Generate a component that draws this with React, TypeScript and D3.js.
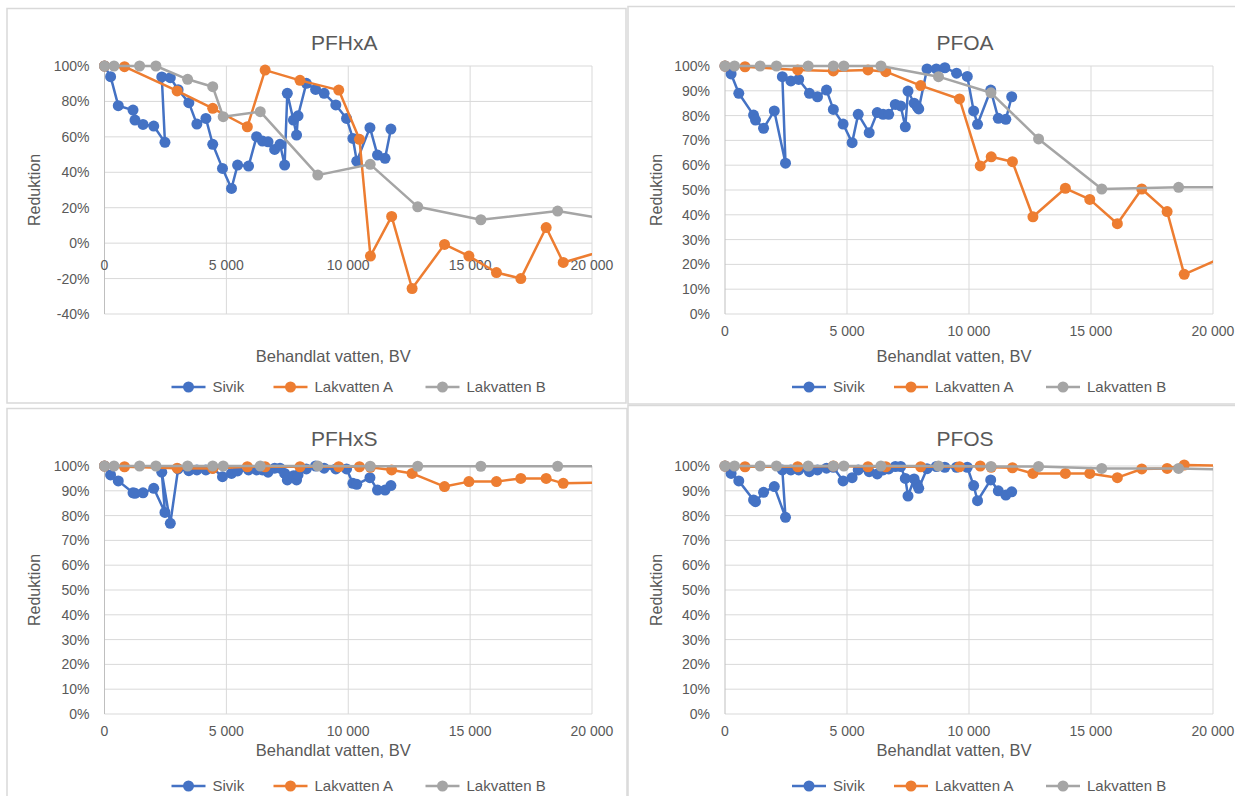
import React from 'react';
import * as d3 from 'd3';

// Behandlat vatten (BV) per prov
const sivikBV = [
  0, 250, 565, 1170, 1250, 1580, 2020, 2480, 2350, 2700, 3020, 3460, 3790, 4160, 4440, 4840, 5210, 5460, 5910, 6240,
  6480, 6710, 6980, 7200, 7390, 7500, 7750, 7880, 7940, 8280, 8660, 9010, 9490, 9930, 10190, 10350, 10890, 11200, 11510, 11750,
];
const lakABV = [0, 820, 2980, 4440, 5860, 6590, 8020, 9610, 10460, 10910, 11780, 12620, 13950, 14950, 16080, 17080, 18120, 18820, 21000];
const lakBBV = [0, 390, 1440, 2110, 3410, 4440, 4870, 6390, 8750, 10900, 12850, 15440, 18590, 21000];

// Reduktion (%) – Sivik
const sivikPFHxA = [
  100, 94, 77.6, 75.1, 69.5, 67, 66.1, 56.9, 93.8, 93.4, 86.6, 79.3, 67.2, 70.4, 55.8, 42.2, 30.9, 44.1, 43.5, 60.1,
  57.6, 57.2, 52.9, 55.8, 44.1, 84.6, 69.5, 61, 71.9, 90.2, 86.8, 84.6, 78, 70.4, 59.1, 46.3, 65.2, 49.7, 47.9, 64.4,
];
const sivikPFOA = [
  100, 96.8, 89, 80.2, 78.2, 74.9, 81.9, 60.8, 95.7, 94, 94.6, 89, 87.6, 90.3, 82.5, 76.6, 69.1, 80.5, 73.1, 81.2,
  80.5, 80.5, 84.5, 83.9, 75.5, 89.9, 85, 83.5, 82.7, 98.8, 98.8, 99.3, 97.1, 95.8, 81.9, 76.5, 90.3, 78.9, 78.5, 87.6,
];
const sivikPFHxS = [
  100, 96.4, 94, 89.2, 89, 89.2, 91, 81.3, 97.5, 76.9, 98.8, 98.1, 98.4, 98.4, 99.1, 95.7, 97, 98, 98.4, 98.4,
  98.4, 97.5, 99.1, 99.1, 97, 94.4, 96.1, 94.4, 96.4, 98.8, 100, 99.1, 98.8, 98.8, 93, 92.6, 95.3, 90.3, 90.3, 92.1,
];
const sivikPFOS = [
  100, 97, 94, 86.3, 85.6, 89.4, 91.7, 79.3, 98.4, 98.4, 98.4, 97.7, 98.4, 99.1, 99.5, 94, 95.3, 98.4, 97.7, 96.8,
  98.4, 98.8, 99.8, 99.8, 95, 87.9, 94.8, 92.5, 91, 98.9, 99.8, 99.5, 99.5, 99.5, 92.1, 86, 94.4, 90, 88.3, 89.6,
];

// Reduktion (%) – Lakvatten A
const lakAPFHxA = [100, 99.6, 85.9, 76.1, 65.7, 97.7, 91.9, 86.4, 58.6, -7.3, 15.1, -25.6, -0.7, -7.3, -16.6, -20, 8.8, -10.9, -2.2];
const lakAPFOA = [100, 99.7, 98.4, 98, 98.4, 97.7, 92.1, 86.7, 59.7, 63.4, 61.4, 39.2, 50.7, 46.2, 36.4, 50.4, 41.3, 16, 25.4];
const lakAPFHxS = [100, 99.7, 99.1, 99, 99.7, 99.7, 99.7, 99.7, 99.7, 99.5, 98.4, 97, 91.7, 93.7, 93.7, 95, 95, 93, 93.5];
const lakAPFOS = [100, 99.7, 99.7, 100, 99.7, 99.7, 99.7, 99.7, 100, 99.5, 99.3, 97, 97, 97, 95.3, 98.8, 99, 100.4, 100];

// Reduktion (%) – Lakvatten B
const lakBPFHxA = [100, 100, 100, 100, 92.5, 88.3, 71.4, 74.2, 38.4, 44.5, 20.5, 13.2, 18.1, 12.6];
const lakBPFOA = [100, 100, 100, 100, 100, 100, 100, 100, 95.7, 89.2, 70.6, 50.4, 51.1, 51.2];
const lakBPFHxS = [100, 100, 100, 100, 100, 100, 100, 100, 100, 99.9, 99.9, 99.9, 99.9, 99.9];
const lakBPFOS = [100, 100, 100, 100, 100, 100, 100, 100, 100, 99.8, 99.8, 99, 99, 98.5];

const seriesNames = ['Sivik', 'Lakvatten A', 'Lakvatten B'];
const seriesColors = ['#4472C4', '#ED7D31', '#A5A5A5'];
const xTicks = [0, 5000, 10000, 15000, 20000];
const yTicksWide = [-40, -20, 0, 20, 40, 60, 80, 100];
const yTicksTen = [0, 10, 20, 30, 40, 50, 60, 70, 80, 90, 100];

const seriesData: Record<string, [number[], number[]][]> = {
  PFHxA: [[sivikBV, sivikPFHxA], [lakABV, lakAPFHxA], [lakBBV, lakBPFHxA]],
  PFOA: [[sivikBV, sivikPFOA], [lakABV, lakAPFOA], [lakBBV, lakBPFOA]],
  PFHxS: [[sivikBV, sivikPFHxS], [lakABV, lakAPFHxS], [lakBBV, lakBPFHxS]],
  PFOS: [[sivikBV, sivikPFOS], [lakABV, lakAPFOS], [lakBBV, lakBPFOS]],
};

const panels = [
  { name: 'PFHxA', box: [7, 8.5, 626, 403], x0: 104.5, x1: 592, yTop: 66, yBot: 314, yTicks: yTicksWide, tickDy: 27, titleY: 50, axisTitleY: 362, legendY: 387, ylabX: 35 },
  { name: 'PFOA', box: [628, 6.5, 1238, 404], x0: 725, x1: 1213, yTop: 66, yBot: 314, yTicks: yTicksTen, tickDy: 22, titleY: 50, axisTitleY: 362, legendY: 387, ylabX: 657 },
  { name: 'PFHxS', box: [7, 408.5, 627, 800], x0: 104.5, x1: 592, yTop: 466, yBot: 714, yTicks: yTicksTen, tickDy: 22, titleY: 446, axisTitleY: 756, legendY: 786, ylabX: 35 },
  { name: 'PFOS', box: [628, 405.5, 1238, 800], x0: 725, x1: 1213, yTop: 466, yBot: 714, yTicks: yTicksTen, tickDy: 22, titleY: 446, axisTitleY: 756, legendY: 786, ylabX: 657 },
];

const FONT = '"Liberation Sans", Arial, sans-serif';
const TEXT = '#595959';
const GRID = '#d9d9d9';

const fmtBV = (d: number) => (d === 0 ? '0' : d3.format(',')(d).replace(/,/g, ' '));

function Panel({ p }: { p: (typeof panels)[number] }) {
  const x = d3.scaleLinear().domain([0, 20000]).range([p.x0, p.x1]);
  const yMin = d3.min(p.yTicks) as number;
  const y = d3.scaleLinear().domain([yMin, 100]).range([p.yBot, p.yTop]);
  const cx = (p.x0 + p.x1) / 2;
  const clipId = `clip-${p.name}`;
  const [bx0, by0, bx1, by1] = p.box;

  return (
    <g>
      <rect x={bx0} y={by0} width={bx1 - bx0} height={by1 - by0} fill="#fff" stroke={GRID} strokeWidth={1.5} />
      <defs>
        <clipPath id={clipId}>
          <rect x={p.x0 - 10} y={p.yTop - 12} width={p.x1 - p.x0 + 10} height={p.yBot - p.yTop + 24} />
        </clipPath>
      </defs>
      {/* grid */}
      {p.yTicks.map((t) => (
        <line key={`h${t}`} x1={p.x0} x2={p.x1} y1={y(t)} y2={y(t)} stroke={GRID} strokeWidth={1} />
      ))}
      {xTicks.map((t) => (
        <line key={`v${t}`} x1={x(t)} x2={x(t)} y1={p.yTop} y2={p.yBot} stroke={t === 0 ? '#bfbfbf' : GRID} strokeWidth={1} />
      ))}
      {/* tick labels */}
      {p.yTicks.map((t) => (
        <text key={`yl${t}`} x={p.x0 - 15} y={y(t) + 5} textAnchor="end" fontSize={14} fill={TEXT} fontFamily={FONT}>
          {`${t}%`}
        </text>
      ))}
      {xTicks.map((t) => (
        <text key={`xl${t}`} x={x(t)} y={y(0) + p.tickDy} textAnchor="middle" fontSize={14} fill={TEXT} fontFamily={FONT}>
          {fmtBV(t)}
        </text>
      ))}
      {/* series */}
      <g clipPath={`url(#${clipId})`}>
        {seriesData[p.name].map(([bv, vals], si) => {
          const pts = bv.map((b, i) => [x(b), y(vals[i])] as [number, number]);
          return (
            <g key={si}>
              <path d={d3.line()(pts) || ''} fill="none" stroke={seriesColors[si]} strokeWidth={2.5} strokeLinejoin="round" />
              {pts.map(([px, py], i) => (
                <circle key={i} cx={px} cy={py} r={5.5} fill={seriesColors[si]} />
              ))}
            </g>
          );
        })}
      </g>
      {/* titles */}
      <text x={cx - 4} y={p.titleY} textAnchor="middle" fontSize={21} fill={TEXT} fontFamily={FONT}>
        {p.name}
      </text>
      <text x={cx - 15} y={p.axisTitleY} textAnchor="middle" fontSize={16.5} fill={TEXT} fontFamily={FONT}>
        Behandlat vatten, BV
      </text>
      <text
        transform={`translate(${p.ylabX},${(p.yTop + p.yBot) / 2}) rotate(-90)`}
        textAnchor="middle"
        dy={5}
        fontSize={16}
        fill={TEXT}
        fontFamily={FONT}
      >
        Reduktion
      </text>
      {/* legend */}
      {seriesNames.map((s, i) => {
        const lx = p.x0 + [67, 169, 321][i];
        return (
          <g key={s} transform={`translate(${lx},${p.legendY})`}>
            <line x1={0} x2={34} y1={0} y2={0} stroke={seriesColors[i]} strokeWidth={2.5} />
            <circle cx={17} cy={0} r={5.5} fill={seriesColors[i]} />
            <text x={41} y={5} fontSize={15} fill={TEXT} fontFamily={FONT}>
              {s}
            </text>
          </g>
        );
      })}
    </g>
  );
}

export default function App() {
  return (
    <svg width={1235} height={796} style={{ position: 'absolute', left: 0, top: 0, background: '#fff' }}>
      <rect width={1235} height={796} fill="#fff" />
      {panels.map((p) => (
        <Panel key={p.name} p={p} />
      ))}
    </svg>
  );
}
